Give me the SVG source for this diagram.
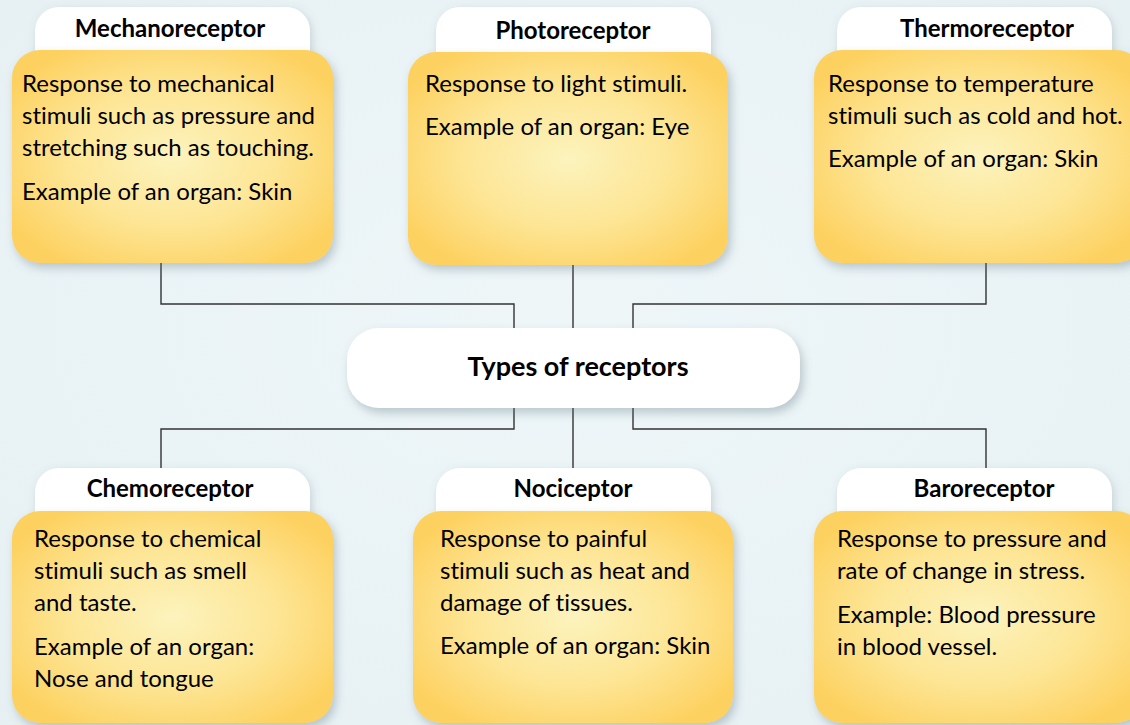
<svg xmlns="http://www.w3.org/2000/svg" width="1130" height="725" viewBox="0 0 1130 725">
<defs>
  <radialGradient id="yel" cx="50%" cy="50%" r="60%">
    <stop offset="0" stop-color="#FCF3BD"/>
    <stop offset="0.55" stop-color="#FDE594"/>
    <stop offset="1" stop-color="#FDD160"/>
  </radialGradient>
  <radialGradient id="bg" cx="50%" cy="45%" r="75%">
    <stop offset="0" stop-color="#EEF6F8"/>
    <stop offset="1" stop-color="#E6F0F3"/>
  </radialGradient>
  <filter id="sh" x="-10%" y="-10%" width="125%" height="130%">
    <feDropShadow dx="3" dy="5" stdDeviation="5" flood-color="#5A7380" flood-opacity="0.35"/>
  </filter>
  <filter id="sh2" x="-10%" y="-20%" width="125%" height="150%">
    <feDropShadow dx="2" dy="3" stdDeviation="4" flood-color="#5A7380" flood-opacity="0.25"/>
  </filter>
</defs>
<style>
  .tab{fill:#FFFFFF;filter:url(#sh2)}
  .card{fill:url(#yel);filter:url(#sh)}
  .title{font-family:Lato,"Open Sans",sans-serif;font-weight:bold;font-size:24px;fill:#000;text-anchor:middle;font-variant-ligatures:none}
  .body{font-family:Lato,"Open Sans",sans-serif;font-size:24px;fill:#000;font-variant-ligatures:none}
  .conn{fill:none;stroke:#333;stroke-width:1.4}
</style>
<rect width="1130" height="725" fill="url(#bg)"/>

<g id="connectors">
  <path class="conn" d="M161 263 V304 H514 V330"/>
  <path class="conn" d="M573 265 V330"/>
  <path class="conn" d="M986 263 V304 H633 V330"/>
  <path class="conn" d="M514 406 V429 H161 V470"/>
  <path class="conn" d="M573 406 V470"/>
  <path class="conn" d="M633 406 V429 H986 V470"/>
</g>

<g id="center">
  <rect x="347" y="328" width="453" height="80" rx="32" fill="#FFFFFF" filter="url(#sh)"/>
  <text class="title" x="578" y="376" style="font-size:27px">Types of receptors</text>
</g>

<g id="mechanoreceptor">
  <rect class="tab" x="35" y="7" width="275" height="70" rx="24"/>
  <text class="title" x="170" y="37">Mechanoreceptor</text>
  <rect class="card" x="12" y="50" width="321" height="213" rx="28"/>
  <text class="body" x="22" y="92">Response to mechanical</text>
  <text class="body" x="22" y="124">stimuli such as pressure and</text>
  <text class="body" x="22" y="156">stretching such as touching.</text>
  <text class="body" x="22" y="200">Example of an organ: Skin</text>
</g>

<g id="photoreceptor">
  <rect class="tab" x="436" y="7" width="275" height="70" rx="24"/>
  <text class="title" x="573" y="39">Photoreceptor</text>
  <rect class="card" x="408" y="52" width="320" height="213" rx="28"/>
  <text class="body" x="425" y="92">Response to light stimuli.</text>
  <text class="body" x="425" y="135">Example of an organ: Eye</text>
</g>

<g id="thermoreceptor">
  <rect class="tab" x="837" y="7" width="275" height="70" rx="24"/>
  <text class="title" x="987" y="37">Thermoreceptor</text>
  <rect class="card" x="814" y="50" width="330" height="213" rx="28"/>
  <text class="body" x="828" y="92">Response to temperature</text>
  <text class="body" x="828" y="124">stimuli such as cold and hot.</text>
  <text class="body" x="828" y="167">Example of an organ: Skin</text>
</g>

<g id="chemoreceptor">
  <rect class="tab" x="35" y="468" width="275" height="70" rx="24"/>
  <text class="title" x="170" y="497">Chemoreceptor</text>
  <rect class="card" x="12" y="511" width="321" height="212" rx="28"/>
  <text class="body" x="34" y="547">Response to chemical</text>
  <text class="body" x="34" y="579">stimuli such as smell</text>
  <text class="body" x="34" y="611">and taste.</text>
  <text class="body" x="34" y="655">Example of an organ:</text>
  <text class="body" x="34" y="687">Nose and tongue</text>
</g>

<g id="nociceptor">
  <rect class="tab" x="436" y="468" width="275" height="70" rx="24"/>
  <text class="title" x="573" y="497">Nociceptor</text>
  <rect class="card" x="413" y="511" width="320" height="212" rx="28"/>
  <text class="body" x="440" y="547">Response to painful</text>
  <text class="body" x="440" y="579">stimuli such as heat and</text>
  <text class="body" x="440" y="611">damage of tissues.</text>
  <text class="body" x="440" y="654">Example of an organ: Skin</text>
</g>

<g id="baroreceptor">
  <rect class="tab" x="837" y="468" width="275" height="70" rx="24"/>
  <text class="title" x="984" y="497">Baroreceptor</text>
  <rect class="card" x="814" y="511" width="330" height="212" rx="28"/>
  <text class="body" x="837" y="547">Response to pressure and</text>
  <text class="body" x="837" y="579">rate of change in stress.</text>
  <text class="body" x="837" y="623">Example: Blood pressure</text>
  <text class="body" x="837" y="655">in blood vessel.</text>
</g>
</svg>
